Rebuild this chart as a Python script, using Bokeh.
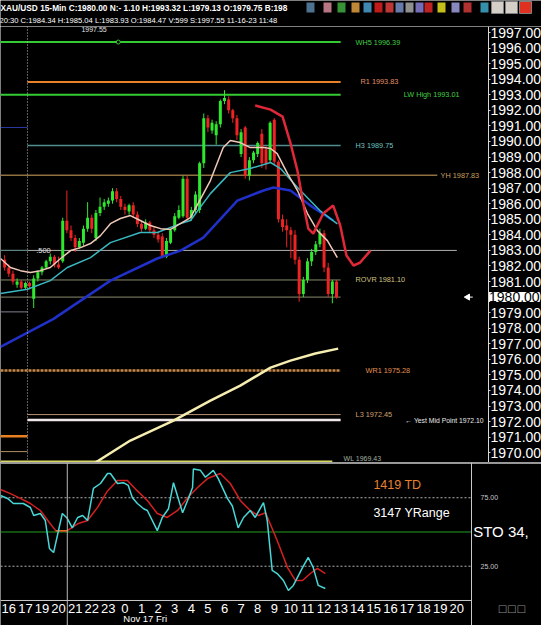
import numpy as np
from bokeh.plotting import figure
from bokeh.layouts import column
from bokeh.models import (Range1d, FixedTicker, NumeralTickFormatter, Label, Span, LinearAxis)
from bokeh.core.properties import value
from bokeh.embed import file_html
from bokeh.resources import INLINE

# ---------------- data ----------------
symbol_line = "XAU/USD 15-Min C:1980.00 N:- 1.10 H:1993.32 L:1979.13 O:1979.75 B:198"
bar_line = "20:30 C:1984.34 H:1985.04 L:1983.93 O:1984.47 V:599 S:1997.55 11-16-23 11:48"

hour_labels = ["16", "17", "19", "20", "21", "22", "23", "0", "1", "2", "3", "4", "5", "6",
               "7", "8", "9", "10", "11", "12", "13", "14", "15", "16", "17", "18", "19", "20"]
date_label = "Nov 17 Fri"

opens = [1982.4, 1981.9, 1981.5, 1980.8, 1981.0, 1980.6, 1980.9, 1979.9, 1981.2, 1981.6,
         1981.9, 1982.3, 1982.6, 1982.1, 1982.3, 1984.9, 1984.3, 1983.8, 1983.2, 1983.5,
         1984.4, 1985.1, 1983.8, 1985.4, 1985.8, 1986.0, 1986.2, 1986.8, 1986.3, 1985.8,
         1985.5, 1985.9, 1985.3, 1984.7, 1984.4, 1984.8, 1984.3, 1984.0, 1983.9, 1982.6,
         1983.5, 1984.3, 1985.1, 1985.2, 1987.6, 1985.1, 1985.6, 1985.6, 1988.6, 1991.5,
         1990.7, 1990.4, 1991.1, 1992.6, 1992.7, 1992.0, 1991.5, 1989.2, 1990.9, 1987.8,
         1988.8, 1989.2, 1990.5, 1989.5, 1988.8, 1991.4, 1988.7, 1985.0, 1984.6, 1984.3,
         1984.0, 1982.4, 1980.2, 1981.1, 1982.3, 1982.9, 1983.4, 1984.1, 1981.9, 1980.2,
         1981.0]
highs = [1982.7, 1982.1, 1981.7, 1981.2, 1981.1, 1981.0, 1981.0, 1981.4, 1981.7, 1982.0,
         1982.4, 1982.8, 1982.7, 1982.6, 1985.1, 1986.85, 1984.6, 1984.0, 1983.8, 1984.6,
         1986.1, 1985.3, 1985.6, 1986.4, 1986.3, 1986.4, 1987.0, 1987.0, 1986.5, 1986.0,
         1986.0, 1986.1, 1985.5, 1984.9, 1985.0, 1984.9, 1984.5, 1984.2, 1984.1, 1983.8,
         1984.4, 1985.4, 1985.9, 1987.8, 1987.8, 1985.8, 1986.8, 1988.7, 1991.8, 1991.7,
         1991.4, 1991.3, 1992.7, 1993.3, 1992.9, 1992.1, 1991.7, 1990.8, 1991.0, 1989.0,
         1989.4, 1990.0, 1990.8, 1989.7, 1991.3, 1991.5, 1988.8, 1985.3, 1985.0, 1984.5,
         1984.3, 1982.6, 1981.3, 1982.5, 1983.1, 1983.6, 1984.4, 1984.3, 1982.2, 1981.1,
         1981.1]
lows = [1981.7, 1981.3, 1980.8, 1980.6, 1980.5, 1980.5, 1980.5, 1979.3, 1981.0, 1981.4,
        1981.8, 1982.1, 1981.9, 1981.8, 1982.2, 1984.1, 1983.6, 1982.9, 1983.1, 1983.3,
        1984.2, 1984.1, 1983.6, 1985.2, 1985.6, 1985.8, 1986.0, 1986.1, 1985.6, 1985.3,
        1985.3, 1985.1, 1984.5, 1984.2, 1984.3, 1984.1, 1983.8, 1983.5, 1982.5, 1982.5,
        1983.4, 1984.2, 1985.0, 1985.1, 1984.9, 1984.9, 1985.4, 1985.4, 1988.3, 1990.6,
        1990.5, 1989.8, 1990.9, 1992.4, 1991.8, 1991.2, 1990.1, 1989.0, 1987.6, 1987.5,
        1988.6, 1989.0, 1988.3, 1988.2, 1988.6, 1988.5, 1984.8, 1984.2, 1983.2, 1982.5,
        1982.1, 1979.7, 1980.0, 1980.9, 1982.0, 1982.7, 1983.2, 1981.6, 1980.0, 1979.6,
        1979.9]
closes = [1981.9, 1981.5, 1981.0, 1981.0, 1980.6, 1980.9, 1980.7, 1981.2, 1981.6, 1981.9,
          1982.3, 1982.6, 1982.1, 1981.9, 1984.9, 1984.3, 1983.8, 1983.2, 1983.6, 1984.4,
          1985.1, 1984.4, 1985.4, 1985.8, 1986.1, 1986.2, 1986.8, 1986.3, 1985.8, 1985.6,
          1985.9, 1985.3, 1984.7, 1984.4, 1984.8, 1984.3, 1984.0, 1983.7, 1982.6, 1983.6,
          1984.3, 1985.2, 1985.6, 1987.6, 1985.1, 1985.6, 1986.6, 1988.6, 1991.5, 1990.9,
          1991.2, 1991.1, 1992.6, 1992.8, 1992.0, 1991.5, 1990.4, 1990.6, 1987.8, 1988.8,
          1989.3, 1989.9, 1988.6, 1988.6, 1991.2, 1988.7, 1985.0, 1984.5, 1984.3, 1984.0,
          1982.4, 1980.2, 1981.1, 1982.3, 1982.9, 1983.4, 1984.1, 1981.9, 1980.2, 1981.0,
          1980.0]

# moving averages (bar position, price)
ma_fast_t = [0, 2.4, 4.8, 7.2, 9.6, 12, 14.5, 16.9, 19.3, 21.7, 24.1, 26.5, 28.9, 31.3, 33.7,
             36.1, 38.6, 41, 45.8, 50.6, 53.7, 55.4, 57.8, 60.2, 63.4, 65.1, 66.7, 69.2, 71.6,
             74, 76.4, 78.8, 81.2]
ma_fast = [1982.48, 1981.9, 1981.7, 1981.58, 1981.7, 1981.9, 1982.48, 1982.99, 1983.18, 1983.44,
           1983.95, 1984.72, 1985.05, 1985.24, 1984.92, 1984.6, 1984.4, 1984.35, 1985.11, 1987.49,
           1989.61, 1990.06, 1989.93, 1989.61, 1989.61, 1989.55, 1989.22, 1987.94, 1986.85,
           1985.37, 1984.27, 1983.63, 1982.54]
ma_mid_t = [0, 6.5, 12, 16.1, 21.7, 26.5, 33.7, 37.8, 43.4, 45.8, 50.6, 55.4, 60.2, 65.1, 67.5,
            71.6, 77, 81.2]
ma_mid = [1980.23, 1980.5, 1981.06, 1981.9, 1982.54, 1983.5, 1984.15, 1984.15, 1984.72, 1984.92,
          1986.65, 1988.0, 1988.26, 1988.65, 1988.26, 1987.04, 1985.56, 1984.7]
ma_slow_t = [0, 12.8, 26.5, 37.8, 43.4, 48.9, 57.1, 63.4, 65.8, 69.9, 74.7, 80.2]
ma_slow = [1976.8, 1978.6, 1981.06, 1982.48, 1982.99, 1983.82, 1986.2, 1986.85, 1987.04, 1986.85,
           1985.88, 1984.92]
ma_red_t = [61.4, 65.1, 68, 69.9, 71.6, 73, 74.2, 75.4, 77.8, 80.2, 81.9, 83.4, 85.1, 86.7, 89.2]
ma_red = [1992.31, 1992.05, 1991.6, 1989.9, 1988.1, 1986.0, 1984.4, 1984.08, 1985.37, 1985.88,
          1984.6, 1982.67, 1982.03, 1982.22, 1982.99]
ma_long_t = [20, 22.9, 31.3, 41.7, 50.6, 57.8, 65.1, 69.9, 75.9, 81.4]
ma_long = [1968.3, 1969.37, 1970.78, 1972.06, 1973.35, 1974.31, 1975.47, 1975.92, 1976.37, 1976.69]

# named levels
level_names = ["WH5", "R1", "LW High", "H3", "YH", "ROVR", "WR1", "L3", "Yest Mid Point", "WL"]
level_values = [1996.39, 1993.83, 1993.01, 1989.75, 1987.83, 1981.10, 1975.28, 1972.45, 1972.10, 1969.43]
fib_level = 1983.00
fib_text = ".500"
close_line = 1980.00
prev_levels = [1990.90, 1983.00, 1979.05, 1971.05, 1970.07]
last_price = 1980.00
high_mark = 1997.55

# stochastic
stoch_k_t = [0, 1.7, 3.1, 5.5, 7.2, 8, 9.6, 10.8, 11.8, 12.8, 14.9, 16.1, 17.3, 18.6, 19.8, 21,
             22.4, 24.1, 25.8, 26.5, 28.2, 29.6, 30.8, 31.8, 33, 34.5, 35.4, 37.8, 39, 40.5, 41.7,
             43.9, 45.1, 46.3, 46.5, 48.2, 49.4, 51.3, 52.5, 54.7, 55.9, 57.3, 58.6, 60.2, 61.4,
             63.4, 64.3, 65.5, 66.7, 68.2, 69.4, 70.6, 72.8, 74.2, 75.4, 76.6, 78.3]
stoch_k = [76.6, 74.5, 70.8, 70.8, 67.9, 62, 63.5, 58.4, 38, 35, 63.5, 60, 53, 60.6, 62, 58.4,
           81.8, 85.4, 92.7, 92.7, 85.4, 86, 84, 75, 70.8, 67, 65.7, 51, 60.6, 67, 86, 64, 73,
           82.5, 96, 95, 90, 95, 89, 74.5, 69, 53, 60.6, 65.7, 60.6, 71.5, 58.4, 22, 19.7, 14.6,
           7.3, 11, 24, 31.4, 24, 11, 8.8]
stoch_d_t = [0, 2.4, 4.8, 7.2, 9.6, 12, 13.3, 16.1, 18.6, 21, 23.4, 25.8, 28.2, 30.6, 33, 35.4,
             37.8, 40.2, 42.7, 45.1, 47.5, 49.9, 53, 55.4, 57.8, 60.2, 62.2, 63.9, 66.7, 69.2,
             71.1, 72.8, 74.7, 76.4, 78.3]
stoch_d = [81, 78, 74.5, 70.8, 65.7, 56, 51, 51, 56, 58.4, 68, 80, 87.6, 87.6, 80, 73, 63.5,
           60.6, 65.7, 75, 82.5, 89, 92.7, 85.4, 73, 65.7, 62, 64, 43.8, 24, 14.6, 14.6, 19.7,
           23.4, 19.7]
stoch_levels = [25, 50, 75]
sto_period = 34
td_value = 1419
yrange_value = 3147

# ---------------- layout / style ----------------
FONT = "Liberation Sans"
W = 541
H_HEAD, H_MAIN, H_LOW = 26, 436, 163
X_FULL = 130.42         # x extent of full canvas width (bar units)
X_AX_MAIN = 117.65      # where price axis sits
X_AX_LOW = 113.55       # where oscillator axis sits

# ---- header ----
h = figure(width=W, height=H_HEAD, x_range=Range1d(0, 541), y_range=Range1d(26, 0),
           output_backend="svg", toolbar_location=None, background_fill_color="black",
           border_fill_color="black", outline_line_color=None, min_border=0,
           x_axis_location=None, y_axis_location=None)
h.grid.visible = False
h.text(x=[0], y=[7.5], text=[symbol_line], text_color="white", text_font=value(FONT),
       text_font_size="8.3px", text_font_style="bold", text_baseline="middle")
h.text(x=[-1], y=[19.5], text=[bar_line], text_color="white", text_font=value(FONT),
       text_font_size="7.6px", text_baseline="middle")
icon_x = [310, 327, 341, 355, 367, 378, 389, 399, 409, 419, 428, 441, 455, 467, 484]
icon_c = ["#5a86a8", "#d88a9a", "#3fae3f", "#e0a040", "#4aa0d0", "#e02020", "#e04040", "#7890c8",
          "#a8a8a8", "#8a80d8", "#e02828", "#e8e020", "#a0a0e0", "#d03a3a", "#40a8c8"]
h.rect(x=icon_x, y=[7] * len(icon_x), width=8, height=10, fill_color=icon_c, line_color=None,
       fill_alpha=0.85)
h.rect(x=[497, 511], y=[7, 7], width=12, height=12, fill_color="#d4d0c8", line_color="#808080")
h.rect(x=[525], y=[7], width=12, height=12, fill_color="#e03020", line_color="#808080")

# ---- main price panel ----
p = figure(width=W, height=H_MAIN, x_range=Range1d(0, X_FULL),
           y_range=Range1d(1969.37, 1997.39), output_backend="svg", toolbar_location=None,
           background_fill_color="black", border_fill_color="black", outline_line_color=None,
           min_border=0, x_axis_location=None, y_axis_location=None)
p.grid.visible = False
ya = LinearAxis(fixed_location=X_AX_MAIN)
ya.ticker = FixedTicker(ticks=list(range(1970, 1998)))
ya.formatter = NumeralTickFormatter(format="0.00")
ya.major_label_text_color = "white"
ya.major_label_text_font = FONT
ya.major_label_text_font_size = "14px"
ya.axis_line_color = "#d8d8d8"
ya.major_tick_line_color = "#d8d8d8"
ya.major_tick_out = 2
ya.major_tick_in = 0
ya.minor_tick_line_color = None
ya.major_label_standoff = 0
p.add_layout(ya, "right")

# level lines
lvl_color = ["#33cc33", "#e8822a", "#33cc33", "#4f8f8f", "#8f7040", "#8a8a6a", "#c88848",
             "#b89070", "#f0e8e8", "#d8d860"]
lvl_width = [2, 2, 2, 1.5, 1.5, 1, 2.5, 1, 2.5, 2]
lvl_start = [0, 6.5, 0, 6.5, 0, 0, 0, 6.5, 6.5, 0]
lvl_end = [82, 82, 82, 82, 105.3, 82, 82, 82, 82, 80]
lbl_color = ["#44cc44", "#e0906a", "#44cc44", "#6fc0c0", "#c8a060", "#d0c080", "#e09050",
             "#d0a070", "#e8e8e8", "#a0b0a0"]
lbl_x = [85.6, 86.8, 97.2, 85.6, 106.1, 85.6, 88.0, 85.6, 97.6, 82.7]
for i, (nm, v) in enumerate(zip(level_names, level_values)):
    dash = "3 1" if nm == "WR1" else "solid"
    p.segment(x0=[lvl_start[i]], y0=[v], x1=[lvl_end[i]], y1=[v], line_color=lvl_color[i],
              line_width=lvl_width[i], line_dash=dash)
    if nm == "Yest Mid Point":
        txt, fsz, bl = f"\u2190 {nm} {v:.2f}", "6.8px", "middle"
    elif nm == "WL":
        txt, fsz, bl = f"{nm} {v:.2f}", "7px", "bottom"
    else:
        txt, fsz, bl = f"{nm} {v:.2f}", "7.3px", "middle"
    p.text(x=[lbl_x[i]], y=[v], text=[txt], text_color=lbl_color[i], text_font=value(FONT),
           text_font_size=fsz, text_baseline=bl)

p.segment(x0=[6.5], y0=[fib_level], x1=[110], y1=[fib_level], line_color="#b0b0b0", line_width=1)
p.text(x=[8.6], y=[fib_level], text=[fib_text], text_color="#e0e0e0", text_font=value(FONT),
       text_font_size="7.5px", text_baseline="middle")
p.segment(x0=[0], y0=[close_line], x1=[82], y1=[close_line], line_color="#8a8a6a", line_width=1)
prev_c = ["#2838a0", "#5a8080", "#808090", "#e88020", "#b09060"]
prev_w = [1.2, 1.2, 1, 2.5, 1]
for v, c, w in zip(prev_levels, prev_c, prev_w):
    p.segment(x0=[0], y0=[v], x1=[6.5], y1=[v], line_color=c, line_width=w)

p.add_layout(Span(location=6.5, dimension="height", line_color="#c0c0c0", line_width=1,
                  line_dash="1 2"))
p.text(x=[19.5], y=[1997.2], text=[f"{high_mark:.2f}"], text_color="#e0e0e0",
       text_font=value(FONT), text_font_size="7px", text_baseline="middle")
p.scatter(x=[28.4], y=[level_values[0]], size=4, marker="circle", line_color="#33cc33",
          fill_color="black")

# candles
bx = np.arange(1, len(opens) + 1)
o = np.array(opens); c = np.array(closes)
cols = np.where(c >= o, "#2ee82e", "#ee2424")
p.segment(x0=bx, y0=lows, x1=bx, y1=highs, line_color=cols, line_width=1)
p.vbar(x=bx, bottom=np.minimum(o, c), top=np.maximum(o, c), width=0.72, fill_color=cols,
       line_color=None)

# moving averages
p.line(ma_long_t, ma_long, line_color="#f5eeb0", line_width=2.5)
p.line(ma_slow_t, ma_slow, line_color="#2030c8", line_width=2.5)
p.line(ma_mid_t, ma_mid, line_color="#3ab8c0", line_width=1.5)
p.line(ma_fast_t, ma_fast, line_color="#f0c8b8", line_width=1.5)
p.line(ma_red_t, ma_red, line_color="#e02838", line_width=2.5)

# last price marker
p.scatter(x=[X_AX_MAIN - 5.0], y=[last_price], marker="triangle", angle=np.pi / 2, size=6,
          fill_color="white", line_color="white")
p.segment(x0=[X_AX_MAIN - 5.0], y0=[last_price], x1=[X_AX_MAIN - 3.8], y1=[last_price],
          line_color="white", line_width=1)
p.add_layout(Label(x=X_AX_MAIN, y=last_price, x_offset=0.5, text=f"{last_price:.2f}",
                   text_color="black", text_font=FONT, text_font_size="14px",
                   text_baseline="middle", background_fill_color="white"))

# ---- stochastic panel ----
q = figure(width=W, height=H_LOW, x_range=Range1d(0, X_FULL), y_range=Range1d(-18.25, 100.73),
           output_backend="svg", toolbar_location=None, background_fill_color="black",
           border_fill_color="black", outline_line_color=None, min_border=0,
           x_axis_location=None, y_axis_location=None)
q.grid.visible = False
hour_ticks = [2 + 4 * k for k in range(len(hour_labels))]
xa = LinearAxis(fixed_location=2.0)
xa.ticker = FixedTicker(ticks=hour_ticks)
xa.major_label_overrides = {t: lab for t, lab in zip(hour_ticks, hour_labels)}
xa.major_label_text_color = "white"
xa.major_label_text_font = FONT
xa.major_label_text_font_size = "13px"
xa.axis_line_color = None
xa.major_tick_line_color = None
xa.minor_tick_line_color = None
xa.major_label_standoff = 0
q.add_layout(xa, "below")

qa = LinearAxis(fixed_location=X_AX_LOW)
qa.ticker = FixedTicker(ticks=[25, 75])
qa.major_label_overrides = {25: "25.00", 75: "75.00"}
qa.major_label_text_color = "#c8c8c8"
qa.major_label_text_font = FONT
qa.major_label_text_font_size = "7px"
qa.axis_line_color = "#c8c8c8"
qa.major_tick_line_color = None
qa.minor_tick_line_color = None
qa.major_label_standoff = 3
q.add_layout(qa, "right")

q.add_layout(Span(location=100.3, dimension="width", line_color="#c8c8c8", line_width=1.5))
q.segment(x0=[0], y0=[0], x1=[X_AX_LOW], y1=[0], line_color="#c8c8c8", line_width=1)
for lv in stoch_levels:
    if lv == 50:
        q.segment(x0=[0], y0=[lv], x1=[X_AX_LOW], y1=[lv], line_color="#22a022", line_width=1)
    else:
        q.segment(x0=[0], y0=[lv], x1=[X_AX_LOW], y1=[lv], line_color="#b0b0b0", line_width=1,
                  line_dash="2 2")
q.add_layout(Span(location=16.1, dimension="height", line_color="#b8b8b8", line_width=1))

q.line(stoch_d_t, stoch_d, line_color="#d42020", line_width=1.5)
q.line(stoch_d_t[6:8], stoch_d[6:8], line_color="#e07020", line_width=1.5)
q.line(stoch_k_t, stoch_k, line_color="#48d8d8", line_width=1.5)

q.text(x=[89.9], y=[84], text=[f"{td_value} TD"], text_color="#e88030", text_font=value(FONT),
       text_font_size="12.5px", text_baseline="middle")
q.text(x=[89.9], y=[64], text=[f"{yrange_value} YRange"], text_color="white",
       text_font=value(FONT), text_font_size="12.5px", text_baseline="middle")
q.text(x=[X_AX_LOW + 0.4], y=[50], text=[f"STO  {sto_period},"], text_color="white",
       text_font=value(FONT), text_font_size="15px", text_baseline="middle")
q.text(x=[hour_ticks[hour_labels.index("0")] - 0.4], y=[-13.1], text=[date_label],
       text_color="white", text_font=value(FONT), text_font_size="9.5px",
       text_baseline="alphabetic")
q.text(x=[X_AX_LOW + 6.3], y=[-5.8], text=["\u25a1\u25a1\u25a1"], text_color="#909090",
       text_font=value("DejaVu Sans"), text_font_size="10px", text_baseline="middle")

layout = column(h, p, q, spacing=0)
open("out.html", "w").write(file_html(layout, INLINE))
